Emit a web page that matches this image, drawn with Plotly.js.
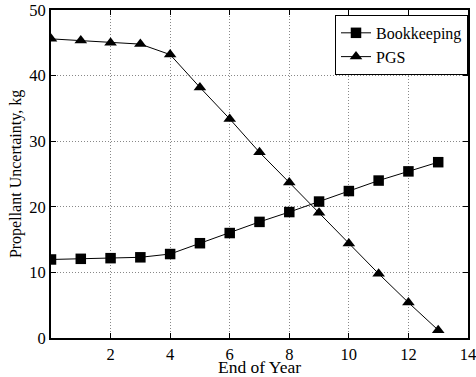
<!DOCTYPE html>
<html>
<head>
<meta charset="utf-8">
<script src="https://cdn.plot.ly/plotly-3.0.1.min.js"></script>
<style>
  html, body { margin: 0; padding: 0; background: #fff; }
  #chart { width: 476px; height: 377px; }
</style>
</head>
<body>
<div id="chart"></div>
<script>
// End of year index
const years = [0, 1, 2, 3, 4, 5, 6, 7, 8, 9, 10, 11, 12, 13];
// Propellant uncertainty (kg) for each estimation method
const bookkeeping = [11.97, 12.07, 12.17, 12.3, 12.8, 14.45, 16.0, 17.7, 19.2, 20.8, 22.4, 24.0, 25.4, 26.8];
const pgs = [45.6, 45.35, 45.0, 44.8, 43.2, 38.2, 33.4, 28.3, 23.7, 19.1, 14.4, 9.8, 5.4, 1.2];
// Axis ticks
const xTicks = [2, 4, 6, 8, 10, 12, 14];
const yTicks = [0, 10, 20, 30, 40, 50];

const serif = "Liberation Serif, Times New Roman, serif";

const traces = [
  {
    x: years, y: bookkeeping, name: "Bookkeeping",
    type: "scatter", mode: "lines+markers",
    line: { color: "#000", width: 1 },
    marker: { symbol: "square", size: 10.5, color: "#000" }
  },
  {
    x: years, y: pgs, name: "PGS",
    type: "scatter", mode: "lines+markers",
    line: { color: "#000", width: 1 },
    marker: { symbol: "triangle-up", size: 11, color: "#000" }
  }
];

const axisCommon = {
  showline: true, linecolor: "#000", linewidth: 2, mirror: "ticks",
  ticks: "inside", ticklen: 5, tickcolor: "#000", tickwidth: 1,
  showgrid: true, gridcolor: "#888", griddash: "1px,2px", gridwidth: 1,
  zeroline: false, ticklabeloverflow: "allow",
  tickfont: { family: serif, size: 16.5, color: "#000" }
};

const layout = {
  width: 476, height: 377,
  margin: { l: 51, r: 8, t: 10, b: 39 },
  paper_bgcolor: "#fff", plot_bgcolor: "#fff",
  font: { family: serif, color: "#000" },
  showlegend: true,
  legend: {
    x: 1, y: 0.985, xanchor: "right", yanchor: "top",
    bgcolor: "#fff", bordercolor: "#000", borderwidth: 1,
    font: { family: serif, size: 16, color: "#000" },
    tracegroupgap: 0, itemwidth: 30
  },
  xaxis: Object.assign({}, axisCommon, {
    range: [0, 14], tickvals: xTicks, ticktext: xTicks.map(String),
    title: { text: "End of Year", font: { family: serif, size: 17.5, color: "#000" }, standoff: 3 }
  }),
  yaxis: Object.assign({}, axisCommon, {
    range: [0, 50], tickvals: yTicks, ticktext: yTicks.map(String),
    title: { text: "Propellant Uncertainty, kg", font: { family: serif, size: 16, color: "#000" }, standoff: 4 }
  })
};

Plotly.newPlot("chart", traces, layout, { displayModeBar: false, staticPlot: true });
</script>
</body>
</html>
